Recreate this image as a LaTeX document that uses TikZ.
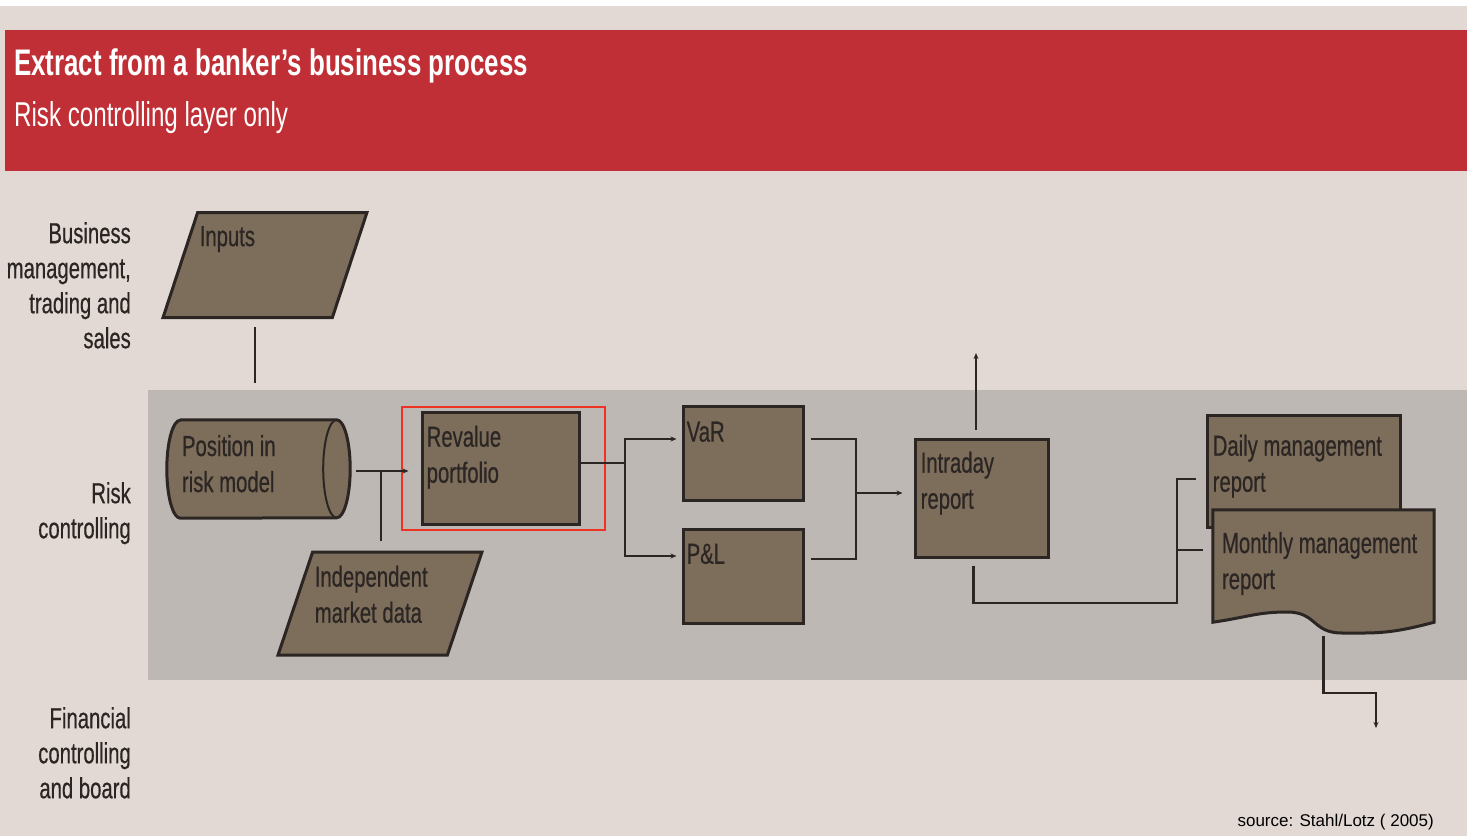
\documentclass[tikz,border=0pt]{standalone}
\usepackage{fontspec}
\setmainfont{Liberation Sans}[FakeStretch=0.70]
\newfontfamily\headfont{Liberation Sans}[FakeStretch=0.70]
\newfontfamily\bodyfont{Liberation Sans}[FakeStretch=0.70, FakeBold=0.5]
\newfontfamily\srcfont{Liberation Sans}
\usetikzlibrary{shapes.geometric,arrows.meta}

\definecolor{paper}{HTML}{E2D8D4}
\definecolor{lane}{HTML}{BEB8B4}
\definecolor{banner}{HTML}{BF2F35}
\definecolor{boxfill}{HTML}{7D6D5B}
\definecolor{ink}{HTML}{2B2623}
\definecolor{hilite}{HTML}{EE3322}

\tikzset{
	lbl/.style = {font=\bodyfont\fontsize{29}{35}\selectfont, align=right, anchor=north east, inner sep=0pt, text=ink},
	txt/.style = {font=\bodyfont\fontsize{29}{36}\selectfont, align=left, anchor=north west, inner sep=0pt, text=ink},
	box/.style = {draw=ink, line width=3pt, fill=boxfill, inner sep=0pt},
	data/.style = {box, trapezium, trapezium left angle=75.6, trapezium right angle=104.4, trapezium stretches=true, inner sep=2pt},
	link/.style = {draw=ink, line width=2.5pt},
	>={Stealth[length=6pt, width=5pt]}
}

\begin{document}
\begin{tikzpicture}[x=1pt, y=-1pt]
	\useasboundingbox (0,0) rectangle (1467,836);
	% background and lanes
	\fill[white] (0,0) rectangle (1467,6);
	\fill[paper] (0,6) rectangle (1467,836);
	\fill[banner] (5,30) rectangle (1467,171);
	\fill[lane] (148,390) rectangle (1467,680);

	\node[anchor=base west, inner sep=0pt, text=white, font=\headfont\bfseries\fontsize{37}{40}\selectfont] (title) at (14,75) {Extract from a banker’s business process};
	\node[anchor=base west, inner sep=0pt, text=white, font=\fontsize{34.5}{40}\selectfont] (subtitle) at (14,126) {Risk controlling layer only};

	% lane labels
	\node[lbl] (biz) at (131,222) {Business\\management,\\trading and\\sales};
	\node[lbl] (risk) at (131,482) {Risk\\controlling};
	\node[lbl] (fin) at (131,707) {Financial\\controlling\\and board};

	% process steps
	\node[data, minimum width=204, minimum height=105, label={[txt, xshift=3pt, yshift=-15pt]top left corner:Inputs}] (inputs) at (265,265) {};
	\node[minimum width=183, minimum height=98, inner sep=0pt] (pos) at (258.5,469) {};
	\draw[box, line join=round] ([xshift=13.5pt]pos.north west) -- ([xshift=-13.5pt]pos.north east)
		arc[start angle=90, end angle=-90, x radius=13.5pt, y radius=49pt]
		-- ([xshift=13.5pt]pos.south west)
		arc[start angle=270, end angle=90, x radius=13.5pt, y radius=49pt] -- cycle;
	\draw[draw=ink, line width=2pt] ([xshift=-13.5pt]pos.north east) arc[start angle=90, end angle=270, x radius=13.5pt, y radius=49pt];
	\node[txt] (postxt) at ([xshift=15pt, yshift=-15pt]pos.north west) {Position in\\risk model};
	\node[data, minimum width=204, minimum height=103, label={[txt, xshift=3pt, yshift=-15pt]top left corner:Independent\\market data}] (mkt) at (380,603.5) {};
	\node[box, minimum width=157, minimum height=112, label={[txt, xshift=6pt, yshift=-15pt]north west:Revalue\\portfolio}] (reval) at (500.5,468) {};
	\node[draw=hilite, line width=2pt, minimum width=203, minimum height=123] (focus) at (503.5,468.5) {};
	\node[box, minimum width=120, minimum height=94, label={[txt, xshift=5pt, yshift=-17pt]north west:VaR}] (var) at (743,453) {};
	\node[box, minimum width=120, minimum height=94, label={[txt, xshift=5pt, yshift=-16pt]north west:P\&L}] (pl) at (743,576) {};
	\node[box, minimum width=133, minimum height=118, label={[txt, xshift=7pt, yshift=-14pt]north west:Intraday\\report}] (intra) at (981.5,498) {};
	\node[box, minimum width=193, minimum height=112, label={[txt, xshift=7pt, yshift=-21pt]north west:Daily management\\report}] (daily) at (1303.5,471) {};
	\node[minimum width=221, minimum height=112, inner sep=0pt] (monthly) at (1323.5,566) {};
	\draw[box] (monthly.south west) -- (monthly.north west) -- (monthly.north east) -- (monthly.south east)
		.. controls +(-45,12) and +(35,0) .. (1342,633)
		.. controls +(-30,0) and +(30,0) .. (1287,612)
		.. controls +(-30,0) and +(35,-5) .. (monthly.south west) -- cycle;
	\node[txt] (monthlytxt) at ([xshift=9pt, yshift=-22pt]monthly.north west) {Monthly management\\report};

	% connectors
	\coordinate (inputsout) at (255,383);
	\coordinate (mktin) at (381,471);
	\coordinate (fork) at (625,463);
	\coordinate (merge) at (856,493);
	\coordinate (intraup) at (976,353);
	\coordinate (route) at (1177,603);
	\coordinate (branch) at (1177,550);
	\coordinate (fcbend) at (1376,693);
	\coordinate (fcout) at (1376,728);

	\draw[link, shorten <=8pt] (inputs.south -| inputsout) -- (inputsout);
	\draw[link, ->, shorten <=6pt, shorten >=12pt] ([yshift=-2pt]pos.east) -- (reval.west |- mktin);
	\draw[link, shorten <=9pt] (mkt.north -| mktin) -- (mktin);
	\draw[link] ([yshift=5pt]reval.east) -- (fork);
	\draw[link, ->, shorten >=5pt] (fork) |- ([yshift=14pt]var.west);
	\draw[link, ->, shorten >=5pt] (fork) |- ([yshift=20pt]pl.west);
	\draw[link] ([xshift=6pt, yshift=14pt]var.east) -| (merge) |- ([xshift=6pt, yshift=17pt]pl.east);
	\draw[link, ->, shorten >=11pt] (merge) -- (intra.west |- merge);
	\draw[link, ->, shorten <=8pt] (intra.north -| intraup) -- (intraup);
	\draw[link, shorten <=7pt, shorten >=10pt] ([xshift=-8pt]intra.south) |- (route) |- ([yshift=-8pt]daily.west);
	\draw[link, shorten >=10pt] (branch) -- (monthly.west |- branch);
	\draw[link, ->, shorten <=14pt] (monthly.south) |- (fcbend) -- (fcout);

	\node[anchor=base east, inner sep=0pt, font=\srcfont\fontsize{17}{20}\selectfont] (source) at (1434,826) {source: Stahl/Lotz ( 2005)};
\end{tikzpicture}
\end{document}
